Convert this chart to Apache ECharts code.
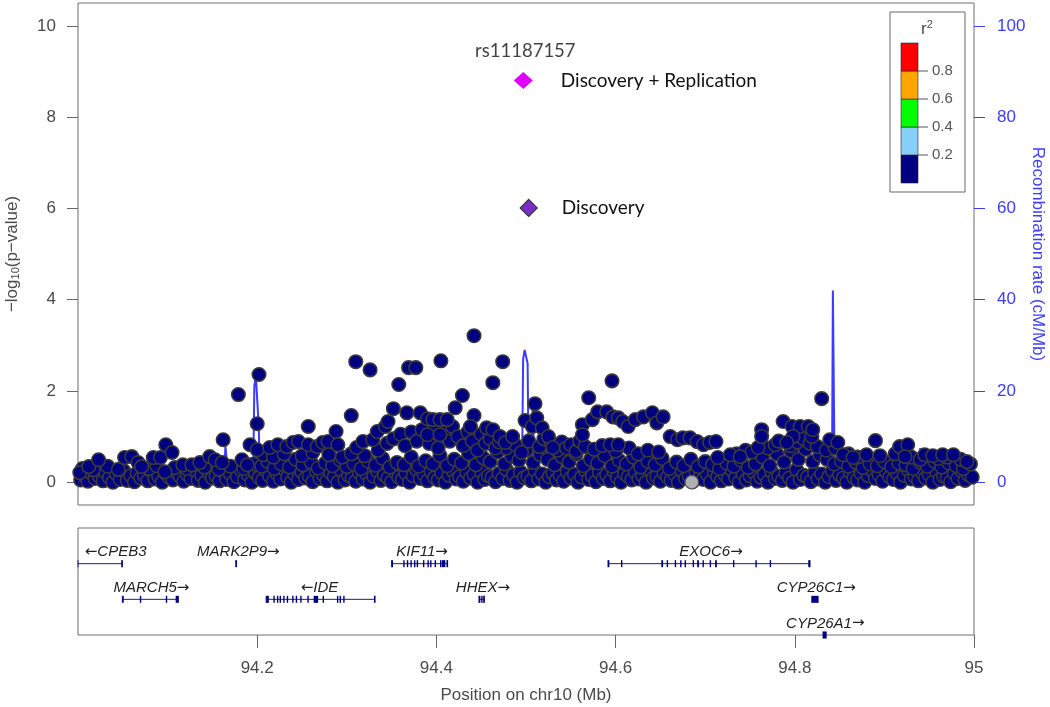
<!DOCTYPE html>
<html><head><meta charset="utf-8">
<script src="https://cdn.jsdelivr.net/npm/echarts@6/dist/echarts.min.js"></script>
<style>html,body{margin:0;padding:0;background:#fff}#c{width:1050px;height:707px}</style>
</head><body><div id="c"></div><script>
// ---- data (position in Mb, -log10 p) ----
const snpsLow = [[94.003,0.05],[94.007,0.15],[94.011,0.02],[94.015,0.2],[94.019,0.08],[94.024,0.12],[94.028,0.03],[94.031,0.22],[94.035,0.1],[94.039,0.0],[94.043,0.18],[94.047,0.06],[94.051,0.25],[94.055,0.04],[94.059,0.14],[94.063,0.01],[94.066,0.2],[94.070,0.09],[94.074,0.16],[94.078,0.03],[94.082,0.24],[94.086,0.07],[94.090,0.13],[94.094,0.0],[94.098,0.19],[94.102,0.1],[94.106,0.05],[94.110,0.22],[94.114,0.12],[94.118,0.02],[94.122,0.17],[94.126,0.08],[94.130,0.26],[94.134,0.04],[94.138,0.15],[94.142,0.0],[94.146,0.21],[94.150,0.09],[94.154,0.14],[94.158,0.03],[94.162,0.23],[94.166,0.06],[94.170,0.18],[94.174,0.01],[94.178,0.12],[94.182,0.27],[94.186,0.05],[94.190,0.16],[94.194,0.0],[94.198,0.2],[94.202,0.1],[94.206,0.04],[94.210,0.25],[94.214,0.13],[94.218,0.02],[94.222,0.19],[94.226,0.07],[94.230,0.28],[94.234,0.11],[94.238,0.0],[94.242,0.17],[94.246,0.06],[94.250,0.22],[94.254,0.09],[94.258,0.14],[94.262,0.01],[94.266,0.24],[94.270,0.08],[94.274,0.16],[94.278,0.03],[94.282,0.2],[94.286,0.12],[94.290,0.0],[94.294,0.26],[94.298,0.05],[94.302,0.15],[94.306,0.1],[94.310,0.02],[94.314,0.21],[94.318,0.07],[94.322,0.18],[94.326,0.0],[94.330,0.13],[94.334,0.25],[94.338,0.04],[94.342,0.16],[94.346,0.09],[94.350,0.01],[94.354,0.22],[94.358,0.11],[94.362,0.06],[94.366,0.19],[94.370,0.0],[94.374,0.14],[94.378,0.27],[94.382,0.08],[94.386,0.17],[94.390,0.03],[94.394,0.23],[94.398,0.1],[94.402,0.05],[94.406,0.2],[94.410,0.0],[94.414,0.15],[94.418,0.26],[94.422,0.07],[94.426,0.12],[94.430,0.02],[94.434,0.21],[94.438,0.09],[94.442,0.17],[94.446,0.0],[94.450,0.24],[94.454,0.06],[94.458,0.14],[94.462,0.11],[94.466,0.01],[94.470,0.19],[94.474,0.08],[94.478,0.28],[94.482,0.04],[94.486,0.16],[94.490,0.0],[94.494,0.22],[94.498,0.1],[94.502,0.13],[94.506,0.03],[94.510,0.25],[94.514,0.07],[94.518,0.18],[94.522,0.0],[94.526,0.12],[94.530,0.2],[94.534,0.05],[94.538,0.15],[94.542,0.02],[94.546,0.23],[94.550,0.09],[94.554,0.17],[94.558,0.0],[94.562,0.11],[94.566,0.26],[94.570,0.06],[94.574,0.14],[94.578,0.01],[94.582,0.21],[94.586,0.08],[94.590,0.16],[94.594,0.03],[94.598,0.24],[94.602,0.1],[94.606,0.0],[94.610,0.19],[94.614,0.12],[94.618,0.05],[94.622,0.22],[94.626,0.07],[94.630,0.15],[94.634,0.0],[94.638,0.27],[94.642,0.09],[94.646,0.13],[94.650,0.02],[94.654,0.2],[94.658,0.11],[94.662,0.04],[94.666,0.17],[94.670,0.0],[94.674,0.25],[94.678,0.08],[94.682,0.14],[94.686,0.01],[94.690,0.21],[94.694,0.1],[94.698,0.06],[94.702,0.18],[94.706,0.0],[94.710,0.23],[94.714,0.12],[94.718,0.03],[94.722,0.16],[94.726,0.07],[94.730,0.26],[94.734,0.1],[94.738,0.0],[94.742,0.19],[94.746,0.05],[94.750,0.14],[94.754,0.22],[94.758,0.02],[94.762,0.11],[94.766,0.17],[94.770,0.0],[94.774,0.24],[94.778,0.08],[94.782,0.13],[94.786,0.04],[94.790,0.2],[94.794,0.09],[94.798,0.0],[94.802,0.27],[94.806,0.06],[94.810,0.15],[94.814,0.11],[94.818,0.01],[94.822,0.21],[94.826,0.07],[94.830,0.18],[94.834,0.0],[94.838,0.12],[94.842,0.25],[94.846,0.04],[94.850,0.16],[94.854,0.09],[94.858,0.0],[94.862,0.22],[94.866,0.1],[94.870,0.05],[94.874,0.19],[94.878,0.0],[94.882,0.14],[94.886,0.26],[94.890,0.08],[94.894,0.17],[94.898,0.02],[94.902,0.23],[94.906,0.11],[94.910,0.06],[94.914,0.2],[94.918,0.0],[94.922,0.15],[94.926,0.28],[94.930,0.07],[94.934,0.12],[94.938,0.03],[94.942,0.21],[94.946,0.09],[94.950,0.17],[94.954,0.0],[94.958,0.24],[94.962,0.06],[94.966,0.13],[94.970,0.1],[94.974,0.01],[94.978,0.19],[94.982,0.08],[94.986,0.25],[94.990,0.04],[94.994,0.16],[94.998,0.11]];
const snpsMid = [[94.005,0.3],[94.017,0.27],[94.033,0.35],[94.045,0.28],[94.079,0.3],[94.088,0.36],[94.108,0.32],[94.121,0.3],[94.141,0.33],[94.157,0.29],[94.170,0.35],[94.185,0.3],[94.196,0.4],[94.205,0.35],[94.212,0.45],[94.219,0.3],[94.227,0.4],[94.236,0.33],[94.243,0.5],[94.251,0.38],[94.26,0.44],[94.268,0.31],[94.276,0.42],[94.284,0.36],[94.293,0.48],[94.3,0.34],[94.308,0.4],[94.316,0.3],[94.324,0.46],[94.332,0.37],[94.34,0.52],[94.348,0.33],[94.356,0.43],[94.364,0.38],[94.372,0.55],[94.38,0.35],[94.388,0.47],[94.396,0.4],[94.404,0.58],[94.412,0.36],[94.42,0.5],[94.428,0.42],[94.436,0.62],[94.444,0.38],[94.452,0.54],[94.46,0.45],[94.468,0.66],[94.476,0.4],[94.484,0.57],[94.492,0.48],[94.5,0.7],[94.508,0.43],[94.516,0.6],[94.524,0.5],[94.532,0.38],[94.54,0.56],[94.548,0.44],[94.556,0.62],[94.564,0.36],[94.572,0.5],[94.58,0.42],[94.588,0.58],[94.596,0.35],[94.604,0.48],[94.612,0.4],[94.62,0.55],[94.628,0.33],[94.636,0.46],[94.644,0.38],[94.652,0.52],[94.66,0.3],[94.668,0.44],[94.676,0.36],[94.684,0.5],[94.692,0.34],[94.7,0.45],[94.708,0.38],[94.716,0.3],[94.724,0.42],[94.732,0.35],[94.74,0.48],[94.748,0.32],[94.756,0.4],[94.764,0.55],[94.772,0.36],[94.78,0.62],[94.788,0.44],[94.796,0.68],[94.804,0.5],[94.812,0.72],[94.82,0.45],[94.828,0.6],[94.836,0.5],[94.844,0.4],[94.852,0.46],[94.86,0.35],[94.868,0.44],[94.876,0.32],[94.884,0.4],[94.892,0.36],[94.9,0.45],[94.908,0.34],[94.916,0.42],[94.924,0.38],[94.932,0.3],[94.94,0.44],[94.948,0.35],[94.956,0.46],[94.964,0.33],[94.972,0.42],[94.98,0.36],[94.988,0.3],[94.996,0.4],
[94.478,0.75],[94.488,0.82],[94.495,0.65],[94.503,0.9],[94.515,0.78],[94.52,0.95],[94.528,0.85],[94.535,0.7],[94.54,0.88],[94.545,0.75],[94.55,0.82],[94.556,0.68],[94.56,0.9],[94.566,0.78],[94.576,0.72],[94.585,0.8],[94.6,0.68],[94.615,0.75],[94.625,0.62],[94.636,0.7],[94.648,0.66],[94.735,0.62],[94.745,0.7],[94.752,0.66],[94.77,0.75],[94.778,0.82],[94.782,0.9],[94.795,0.8],[94.803,0.88],[94.81,0.95],[94.817,0.85],[94.825,0.78],[94.835,0.7],[94.845,0.75],[94.86,0.62],[94.87,0.55],[94.88,0.6],[94.895,0.58],[94.912,0.62],[94.93,0.55],[94.94,0.5],[94.96,0.52],[94.97,0.55],[94.985,0.5],
[94.335,0.7],[94.345,0.85],[94.352,0.95],[94.36,1.05],[94.365,0.8],[94.372,1.1],[94.378,0.9],[94.384,1.15],[94.392,0.85],[94.398,1.2],[94.402,0.75],[94.41,1.1],[94.415,0.9],[94.418,1.22],[94.424,1.0],[94.43,0.8],[94.435,1.1],[94.44,0.9],[94.446,0.7],[94.45,1.05],[94.455,0.85],[94.46,0.95],[94.466,0.75],[94.47,0.88],
[94.207,0.6],[94.218,0.55],[94.23,0.62],[94.25,0.58],[94.262,0.65],[94.28,0.6],[94.295,0.55],[94.305,0.62],[94.32,0.58]];
const snpsHigh = [[94.002,0.21],[94.012,0.34],[94.023,0.49],[94.052,0.54],[94.060,0.56],[94.067,0.43],[94.071,0.34],[94.084,0.54],[94.092,0.54],[94.098,0.82],[94.105,0.65],[94.097,0.23],[94.117,0.38],[94.127,0.38],[94.136,0.43],[94.147,0.56],[94.153,0.49],[94.161,0.43],[94.162,0.93],[94.179,1.92],[94.183,0.49],[94.189,0.38],[94.192,0.82],[94.200,0.71],[94.200,1.28],[94.202,2.36],[94.214,0.76],[94.223,0.82],[94.233,0.78],[94.240,0.87],[94.246,0.89],[94.257,1.22],[94.257,0.82],[94.267,0.78],[94.273,0.87],[94.279,0.89],[94.288,1.11],[94.290,0.82],[94.305,1.46],[94.310,2.64],[94.311,0.76],[94.318,0.89],[94.326,2.46],[94.329,0.93],[94.334,1.11],[94.343,1.22],[94.346,1.33],[94.352,1.61],[94.358,2.14],[94.367,1.52],[94.369,2.51],[94.377,2.51],[94.382,1.52],[94.390,1.39],[94.396,1.37],[94.405,2.66],[94.404,1.37],[94.412,1.37],[94.421,1.63],[94.429,1.90],[94.442,3.21],[94.442,1.46],[94.438,1.22],[94.390,1.04],[94.404,1.04],[94.463,2.18],[94.474,2.64],[94.456,1.19],[94.463,1.15],[94.471,1.00],[94.477,0.87],[94.485,1.00],[94.499,1.35],[94.507,1.22],[94.510,1.72],[94.512,1.41],[94.518,1.19],[94.525,1.00],[94.530,0.76],[94.563,1.26],[94.563,1.04],[94.570,1.85],[94.574,1.37],[94.580,1.54],[94.590,1.54],[94.596,2.22],[94.597,1.43],[94.603,1.41],[94.608,1.33],[94.614,1.22],[94.622,1.37],[94.631,1.43],[94.641,1.52],[94.646,1.30],[94.653,1.43],[94.594,0.82],[94.603,0.82],[94.661,1.00],[94.669,0.93],[94.675,0.97],[94.683,0.97],[94.691,0.89],[94.698,0.82],[94.705,0.87],[94.712,0.89],[94.714,0.54],[94.728,0.60],[94.739,0.56],[94.759,0.76],[94.763,1.15],[94.763,1.00],[94.787,1.33],[94.797,1.22],[94.806,1.22],[94.815,1.22],[94.819,1.00],[94.820,1.15],[94.798,1.00],[94.791,0.87],[94.830,1.83],[94.839,0.93],[94.848,0.87],[94.854,0.60],[94.865,0.54],[94.890,0.91],[94.917,0.78],[94.926,0.82],[94.923,0.56],[94.945,0.60],[94.954,0.58],[94.965,0.60],[94.977,0.60],[94.992,0.45]];
const snpsNoLD = [[94.685,0.0]];
const leadReplication = [[94.497,8.80]];
const leadDiscovery = [[94.503,6.01]];
const leadSnpName = 'rs11187157';
// recombination rate (cM/Mb)
const recombination = [[94.000,0.4],[94.050,0.3],[94.100,0.4],[94.140,0.5],[94.163,0.6],[94.1645,8.0],[94.1665,8.2],[94.168,0.7],[94.190,0.5],[94.1955,0.8],[94.1968,21.0],[94.1985,23.3],[94.2005,23.0],[94.2018,12.0],[94.2030,1.0],[94.230,0.4],[94.300,0.3],[94.350,0.4],[94.400,0.5],[94.450,0.5],[94.490,0.7],[94.4955,1.0],[94.4968,27.0],[94.4985,29.0],[94.5005,29.0],[94.5018,26.0],[94.5030,1.2],[94.5065,1.0],[94.5075,17.5],[94.5085,17.5],[94.5095,1.0],[94.530,0.5],[94.560,0.4],[94.586,0.5],[94.588,2.7],[94.590,0.5],[94.620,0.3],[94.700,0.3],[94.760,0.4],[94.820,0.5],[94.8415,0.6],[94.8425,42.0],[94.8435,42.0],[94.8445,0.6],[94.870,0.4],[94.938,0.4],[94.940,7.5],[94.942,0.5],[94.960,0.4],[95.000,0.3]];
// genes
const geneNames = ['CPEB3','MARK2P9','KIF11','MARCH5','IDE','HHEX','EXOC6','CYP26C1','CYP26A1'];
const geneStrand = ['-','+','+','+','-','+','+','+','+'];
const geneSpan = [[93.95,94.049],[94.1755,94.1775],[94.350,94.412],[94.0495,94.112],[94.210,94.331],[94.4475,94.453],[94.5915,94.817],[94.819,94.826],[94.8315,94.835]];
const geneRow = [1,1,1,2,2,2,1,2,3];
const geneLabelAt = [94.042,94.179,94.384,94.082,94.2695,94.452,94.7065,94.824,94.834];
const geneExons = [
  [[94.0485,94.049]],
  [[94.1755,94.1775]],
  [[94.350,94.3505],[94.363,94.3635],[94.367,94.3675],[94.371,94.3715],[94.375,94.3755],[94.378,94.3785],[94.385,94.3855],[94.390,94.3905],[94.393,94.3935],[94.398,94.3985],[94.404,94.4045],[94.406,94.410],[94.4115,94.412]],
  [[94.0495,94.050],[94.069,94.0695],[94.098,94.0985],[94.109,94.112]],
  [[94.210,94.213],[94.218,94.2185],[94.222,94.2225],[94.225,94.2255],[94.229,94.2295],[94.233,94.2335],[94.239,94.2395],[94.243,94.2435],[94.248,94.2485],[94.256,94.2565],[94.263,94.268],[94.273,94.2735],[94.289,94.2895],[94.292,94.2925],[94.296,94.2965],[94.3305,94.331]],
  [[94.4475,94.448],[94.450,94.4505],[94.4525,94.453]],
  [[94.5915,94.592],[94.606,94.6065],[94.651,94.653],[94.657,94.6575],[94.666,94.6665],[94.672,94.6725],[94.677,94.6775],[94.686,94.6865],[94.691,94.693],[94.697,94.6975],[94.705,94.7055],[94.711,94.713],[94.731,94.7315],[94.756,94.7565],[94.772,94.7725],[94.815,94.817]],
  [[94.819,94.826]],
  [[94.8315,94.835]]
];
const xTicks = [94.2,94.4,94.6,94.8,95];
const pTicks = [0,2,4,6,8,10];
const recombTicks = [0,20,40,60,80,100];
const r2Breaks = ['0.2','0.4','0.6','0.8'];
const r2Colors = ['#000080','#87cefa','#00ff00','#ffa500','#ff0000'];

// ---- chart ----
const FONT = '"Liberation Sans", Arial, sans-serif';
const ANNOT = 'Lato, "Open Sans", sans-serif';
const GRAY = '#4a4a4a';
const BLUE = '#3b3bff';
const GENE = '#1c1c8c';
const chart = echarts.init(document.getElementById('c'), null, {renderer: 'canvas'});

function renderGene(params, api) {
  const i = params.dataIndex;
  const row = geneRow[i];
  const cs = params.coordSys;
  const a = api.coord([geneSpan[i][0], row]);
  const b = api.coord([geneSpan[i][1], row]);
  const y = a[1];
  const x0 = Math.max(a[0], cs.x), x1 = Math.min(b[0], cs.x + cs.width);
  const ch = [];
  if (x1 - x0 > 2) {
    ch.push({type:'line', shape:{x1:x0, y1:y, x2:x1, y2:y}, style:{stroke:GENE, lineWidth:1}});
    [x0, x1].forEach(x => ch.push({type:'line', shape:{x1:x, y1:y-3.5, x2:x, y2:y+3.5}, style:{stroke:GENE, lineWidth:1}}));
  }
  geneExons[i].forEach(ex => {
    const p = api.coord([ex[0], row]), q = api.coord([ex[1], row]);
    const w = Math.max(q[0] - p[0], 1.4);
    ch.push({type:'rect', shape:{x:p[0], y:y-3.5, width:w, height:7}, style:{fill:'#000080'}});
  });
  const l = api.coord([geneLabelAt[i], row]);
  const txt = geneStrand[i] === '-' ? '{a|\u2190}' + geneNames[i] : geneNames[i] + '{a|\u2192}';
  ch.push({type:'text', x:l[0], y:y-11.5, style:{text:txt, fill:'#222', fontStyle:'italic', fontSize:15, fontFamily:FONT, align:'center', verticalAlign:'middle',
    rich:{a:{fontFamily:'"DejaVu Sans", sans-serif', fontSize:15, fontStyle:'normal', fill:'#222'}}}});
  return {type:'group', children:ch};
}

const snpStyle = {color:'#000080', borderColor:'#3a3a3a', borderWidth:1.6, opacity:1};
const snpSeries = (d) => ({type:'scatter', xAxisIndex:0, yAxisIndex:0, data:d, symbol:'circle', symbolSize:13.5, itemStyle:snpStyle, z:3, silent:true});

// legend graphics (r^2 key)
const legendChildren = [
  {type:'rect', shape:{x:890, y:12, width:75, height:180}, style:{fill:'#fff', stroke:'#666', lineWidth:1}},
  {type:'text', x:927, y:29, style:{text:'r{s|2}', rich:{s:{fontSize:11, verticalAlign:'top', padding:[0,0,8,0], fill:GRAY, fontFamily:FONT}}, fontSize:17, fontFamily:FONT, fill:GRAY, align:'center', verticalAlign:'middle'}}
];
r2Colors.forEach((c, k) => {
  legendChildren.push({type:'rect', shape:{x:901, y:155 - k*28, width:17, height:28}, style:{fill:c, stroke:'#222', lineWidth:0.6}});
});
r2Breaks.forEach((t, k) => {
  const yy = 155 - k*28;
  legendChildren.push({type:'line', shape:{x1:918, y1:yy, x2:928, y2:yy}, style:{stroke:'#555', lineWidth:1}});
  legendChildren.push({type:'text', x:932, y:yy, style:{text:t, font:'15px ' + FONT, fill:'#555', verticalAlign:'middle', align:'left'}});
});

chart.setOption({
  animation:false,
  backgroundColor:'#fff',
  grid:[
    {left:78, top:3, width:896, height:502, show:true, borderColor:'#6e6e6e', borderWidth:1, backgroundColor:'transparent', containLabel:false, outerBoundsMode:'none'},
    {left:78, top:528, width:896, height:107, show:true, borderColor:'#6e6e6e', borderWidth:1, backgroundColor:'transparent', containLabel:false, outerBoundsMode:'none'}
  ],
  xAxis:[
    {type:'value', gridIndex:0, min:94, max:95, show:false},
    {type:'value', gridIndex:1, min:94, max:95, position:'bottom',
     axisLine:{show:false, onZero:false}, splitLine:{show:false},
     axisTick:{show:true, inside:false, length:13, customValues:xTicks, lineStyle:{color:'#666'}},
     axisLabel:{customValues:xTicks, margin:25, color:GRAY, fontSize:17, fontFamily:FONT, formatter:v => String(+(+v).toFixed(1))},
     name:'Position on chr10 (Mb)', nameLocation:'middle', nameGap:52, nameMoveOverlap:false,
     nameTextStyle:{color:GRAY, fontSize:17, fontFamily:FONT}}
  ],
  yAxis:[
    {type:'value', gridIndex:0, min:-0.5, max:10.5, position:'left',
     axisLine:{show:false, onZero:false}, splitLine:{show:false},
     axisTick:{show:true, inside:false, length:11, customValues:pTicks, lineStyle:{color:'#666'}},
     axisLabel:{customValues:pTicks, margin:22, color:GRAY, fontSize:17, fontFamily:FONT},
     name:'\u2212log{sub|10}(p\u2212value)', nameLocation:'middle', nameGap:57, nameMoveOverlap:false,
     nameTextStyle:{color:GRAY, fontSize:17, fontFamily:FONT, rich:{sub:{fontSize:11, fontFamily:FONT, color:GRAY, padding:[6,0,0,0]}}}},
    {type:'value', gridIndex:0, min:-5, max:105, position:'right',
     axisLine:{show:false, onZero:false}, splitLine:{show:false},
     axisTick:{show:true, inside:false, length:11, customValues:recombTicks, lineStyle:{color:BLUE}},
     axisLabel:{customValues:recombTicks, margin:23, color:BLUE, fontSize:17, fontFamily:FONT},
     name:'Recombination rate (cM/Mb)', nameLocation:'middle', nameGap:55, nameRotate:-90, nameMoveOverlap:false,
     nameTextStyle:{color:BLUE, fontSize:17, fontFamily:FONT}},
    {type:'value', gridIndex:1, min:0, max:3, inverse:true, show:false}
  ],
  series:[
    {type:'line', xAxisIndex:0, yAxisIndex:1, data:recombination, showSymbol:false, symbol:'none',
     lineStyle:{color:BLUE, width:2}, z:1, silent:true},
    snpSeries(snpsLow),
    snpSeries(snpsMid),
    snpSeries(snpsHigh),
    {type:'scatter', xAxisIndex:0, yAxisIndex:0, data:snpsNoLD, symbolSize:13.5, itemStyle:{color:'#b0b0b0', borderColor:'#555', borderWidth:1.2, opacity:1}, z:3, silent:true},
    {type:'scatter', xAxisIndex:0, yAxisIndex:0, data:leadReplication, symbol:'diamond', symbolSize:[19,17],
     itemStyle:{color:'#e100ff', opacity:1}, z:5, silent:true,
     label:{show:true, position:'right', distance:28, formatter:'Discovery + Replication', color:'#111', fontSize:19, fontFamily:ANNOT}},
    {type:'scatter', xAxisIndex:0, yAxisIndex:0, data:leadReplication, symbol:'circle', symbolSize:1,
     itemStyle:{color:'rgba(0,0,0,0)'}, z:5, silent:true,
     label:{show:true, position:'inside', offset:[2,-30], formatter:leadSnpName, color:'#111', fontSize:18.5, fontFamily:ANNOT}},
    {type:'scatter', xAxisIndex:0, yAxisIndex:0, data:leadDiscovery, symbol:'diamond', symbolSize:[17,17],
     itemStyle:{color:'#7a2ec4', borderColor:'#333', borderWidth:1.2, opacity:1}, z:5, silent:true,
     label:{show:true, position:'right', distance:24, formatter:'Discovery', color:'#111', fontSize:19, fontFamily:ANNOT}},
    {type:'custom', xAxisIndex:1, yAxisIndex:2, renderItem:renderGene, clip:false, silent:true,
     data:geneSpan.map((s, i) => [s[0], s[1], geneRow[i]]), encode:{x:[0,1], y:2}}
  ],
  graphic:[{type:'group', z:100, children:legendChildren}]
});
</script></body></html>
